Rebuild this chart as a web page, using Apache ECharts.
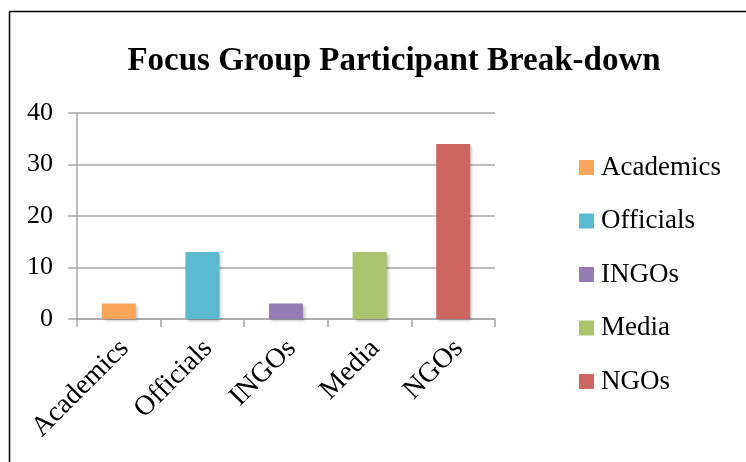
<!DOCTYPE html>
<html>
<head>
<meta charset="utf-8">
<script src="https://cdn.jsdelivr.net/npm/echarts@6/dist/echarts.min.js"></script>
<style>
html,body{margin:0;padding:0;background:#fff;}
#chart{width:746px;height:462px;}
</style>
</head>
<body>
<div id="chart"></div>
<script>
// 数据
var categories = ['Academics', 'Officials', 'INGOs', 'Media', 'NGOs'];
var values = [3, 13, 3, 13, 34];
var colors = ['#f9a65a', '#5bb9d2', '#957bb3', '#aac46e', '#cd6660'];
var yTicks = [0, 10, 20, 30, 40];

var font = 'Liberation Serif';
var gray = '#a6a6a6';

var myChart = echarts.init(document.getElementById('chart'));

// one series per category so the legend lists each one
var seriesList = categories.map(function (name, i) {
	return {
		name: name,
		type: 'bar',
		stack: 'all',
		barWidth: 34,
		itemStyle: {
			color: colors[i],
			shadowBlur: 3,
			shadowOffsetX: 2,
			shadowOffsetY: 2,
			shadowColor: 'rgba(0,0,0,0.25)'
		},
		data: categories.map(function (c, j) { return j === i ? values[i] : '-'; })
	};
});

var option = {
	animation: false,
	title: {
		text: 'Focus Group Participant Break-down',
		left: 389,
		textAlign: 'center',
		top: 40,
		textStyle: { fontFamily: font, fontWeight: 'bold', fontSize: 33, color: '#000' }
	},
	legend: {
		orient: 'vertical',
		left: 579,
		top: 154,
		padding: 0,
		icon: 'rect',
		itemWidth: 15,
		itemHeight: 15,
		itemGap: 26.5,
		data: categories,
		textStyle: { fontFamily: font, fontSize: 27, color: '#000', padding: [0, 0, 0, 2] }
	},
	graphic: [
		{ type: 'line', shape: { x1: 9.5, y1: 11.5, x2: 746, y2: 11.5 }, style: { stroke: '#000', lineWidth: 1.5 } },
		{ type: 'line', shape: { x1: 9.5, y1: 11.5, x2: 9.5, y2: 462 }, style: { stroke: '#000', lineWidth: 1.5 } }
	],
	grid: { left: 77, right: 251, top: 113, bottom: 143 },
	xAxis: {
		type: 'category',
		data: categories,
		axisLine: { lineStyle: { color: gray, width: 1.5 } },
		axisTick: { show: true, length: 8, lineStyle: { color: gray, width: 1.5 } },
		axisLabel: { rotate: 45, margin: 31, padding: [0, -8, 0, 0], fontFamily: font, fontSize: 28, color: '#000' }
	},
	yAxis: {
		type: 'value',
		min: yTicks[0],
		max: yTicks[yTicks.length - 1],
		interval: 10,
		axisLine: { show: true, lineStyle: { color: gray, width: 1.5 } },
		axisTick: { show: true, length: 9, lineStyle: { color: gray, width: 1.5 } },
		splitLine: { lineStyle: { color: gray, width: 1.5 } },
		axisLabel: { margin: 24, fontFamily: font, fontSize: 26, color: '#000' }
	},
	series: seriesList
};

myChart.setOption(option);
</script>
</body>
</html>
